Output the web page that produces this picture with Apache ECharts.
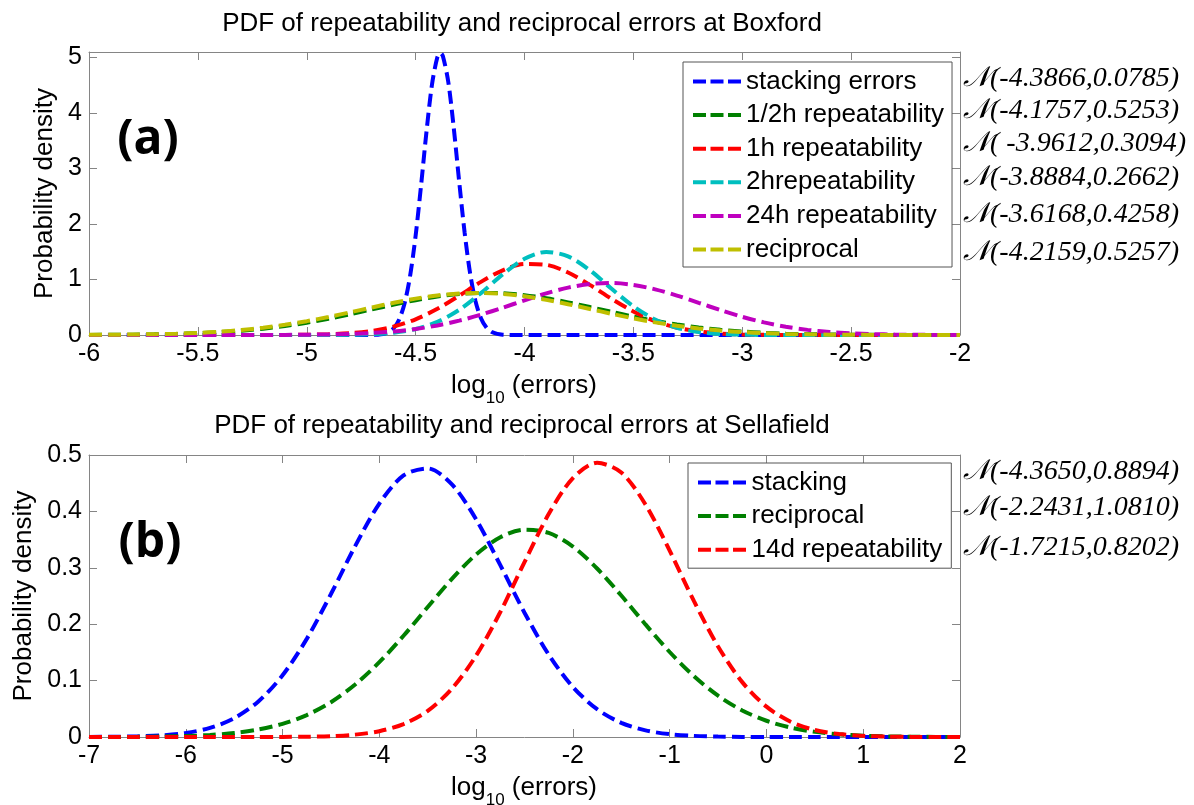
<!DOCTYPE html>
<html><head><meta charset="utf-8">
<script src="https://cdn.jsdelivr.net/npm/echarts@6/dist/echarts.min.js"></script>
<style>html,body{margin:0;padding:0;background:#fff}#c{width:1194px;height:805px}</style>
</head><body><div id="c"></div>
<script>
// ---------- Panel (a): Boxford ----------
const topX = [-6.0,-5.9,-5.8,-5.7,-5.6,-5.5,-5.4,-5.3,-5.2,-5.1,-5.0,-4.9,-4.8,-4.7,-4.6,-4.5,-4.4,-4.3,-4.2,-4.1,-4.0,-3.9,-3.8,-3.7,-3.6,-3.5,-3.4,-3.3,-3.2,-3.1,-3.0,-2.9,-2.8,-2.7,-2.6,-2.5,-2.4,-2.3,-2.2,-2.1,-2.0];
const stackX = [-6.0,-4.75,-4.7,-4.675,-4.65,-4.625,-4.6,-4.575,-4.55,-4.525,-4.5,-4.475,-4.45,-4.425,-4.4,-4.3866,-4.375,-4.35,-4.325,-4.3,-4.275,-4.25,-4.225,-4.2,-4.175,-4.15,-4.125,-4.1,-4.075,-4.05,-2.0];
const stackY = [0,0.0001,0.0018,0.006,0.018,0.051,0.126,0.285,0.582,1.074,1.789,2.696,3.668,4.509,5.008,5.082,5.027,4.559,3.735,2.766,1.849,1.118,0.610,0.301,0.134,0.054,0.020,0.0065,0.002,0.0005,0];
const halfHourY = [0.0018,0.0035,0.0064,0.0113,0.0192,0.0316,0.0502,0.0769,0.1135,0.1615,0.2218,0.2935,0.3748,0.4616,0.5481,0.6277,0.6933,0.7385,0.7587,0.7517,0.7182,0.6618,0.5881,0.5041,0.4166,0.3320,0.2553,0.1893,0.1353,0.0933,0.0621,0.0398,0.0246,0.0147,0.0084,0.0047,0.0025,0.0013,0.0006,0.0003,0.0001];
const oneHourY = [0,0,0,0,0,0,0,0,0.0004,0.0015,0.0046,0.0129,0.0327,0.0745,0.1531,0.2830,0.4717,0.7080,0.9574,1.1660,1.2793,1.2644,1.1258,0.9030,0.6523,0.4245,0.2489,0.1314,0.0625,0.0268,0.0103,0.0036,0.0011,0.0003,0,0,0,0,0,0,0];
const twoHourY = [0,0,0,0,0,0,0,0,0,0,0,0.0011,0.0043,0.0144,0.0421,0.1070,0.2364,0.4535,0.7553,1.0926,1.3726,1.4972,1.4183,1.1665,0.8334,0.5169,0.2785,0.1302,0.0529,0.0187,0.0057,0.0015,0.0003,0,0,0,0,0,0,0,0];
const dayY = [0,0,0,0,0,0,0,0.0004,0.0009,0.0022,0.0048,0.0100,0.0197,0.0368,0.0651,0.1090,0.1726,0.2586,0.3667,0.4921,0.6249,0.7510,0.8541,0.9192,0.9361,0.9023,0.8230,0.7104,0.5802,0.4486,0.3281,0.2272,0.1488,0.0923,0.0542,0.0301,0.0158,0.0079,0.0037,0.0016,0.0007];
const recipTopY = [0.0024,0.0045,0.0081,0.0141,0.0237,0.0384,0.0600,0.0905,0.1316,0.1845,0.2495,0.3254,0.4094,0.4966,0.5811,0.6558,0.7138,0.7493,0.7585,0.7407,0.6975,0.6335,0.5550,0.4689,0.3820,0.3002,0.2276,0.1664,0.1173,0.0798,0.0523,0.0331,0.0202,0.0119,0.0067,0.0037,0.0019,0.0010,0.0005,0.0002,0.0001];
const topNames = ['stacking errors','1/2h repeatability','1h repeatability','2hrepeatability','24h repeatability','reciprocal'];
const topNotes = ['\u{1D4A9}(-4.3866,0.0785)','\u{1D4A9}(-4.1757,0.5253)','\u{1D4A9}( -3.9612,0.3094)','\u{1D4A9}(-3.8884,0.2662)','\u{1D4A9}(-3.6168,0.4258)','\u{1D4A9}(-4.2159,0.5257)'];

// ---------- Panel (b): Sellafield ----------
const botX = [-7,-6.75,-6.5,-6.25,-6,-5.75,-5.5,-5.25,-5,-4.75,-4.5,-4.25,-4,-3.75,-3.5,-3.25,-3,-2.75,-2.5,-2.25,-2,-1.75,-1.5,-1.25,-1,-0.75,-0.5,-0.25,0,0.25,0.5,0.75,1,1.25,1.5,1.75,2];
const stackBotY = [0.0001,0.0004,0.0011,0.0029,0.0071,0.0161,0.0333,0.0631,0.1094,0.1740,0.2535,0.3385,0.4139,0.4638,0.4762,0.4479,0.3859,0.3047,0.2204,0.1461,0.0887,0.0493,0.0251,0.0117,0.0050,0.0020,0.0007,0.0002,0,0,0,0,0,0,0,0,0];
const recipBotY = [0.0001,0.0001,0.0003,0.0008,0.0017,0.0036,0.0071,0.0132,0.0233,0.0389,0.0617,0.0930,0.1326,0.1795,0.2304,0.2804,0.3236,0.3542,0.3676,0.3618,0.3377,0.2988,0.2508,0.1996,0.1507,0.1079,0.0732,0.0471,0.0288,0.0166,0.0091,0.0048,0.0023,0.0011,0.0005,0.0002,0.0001];
const fortnightY = [0,0,0,0,0,0,0,0,0.0002,0.0005,0.0016,0.0042,0.0103,0.0229,0.0464,0.0857,0.1443,0.2216,0.3100,0.3952,0.4592,0.4861,0.4690,0.4123,0.3304,0.2412,0.1605,0.0973,0.0538,0.0271,0.0124,0.0052,0.0020,0.0007,0.0002,0.0001,0];
const botNames = ['stacking','reciprocal ','14d repeatability'];
const botNotes = ['\u{1D4A9}(-4.3650,0.8894)','\u{1D4A9}(-2.2431,1.0810)','\u{1D4A9}(-1.7215,0.8202)'];

const SANS = '"Liberation Sans", Arial, sans-serif';
const AX = '#858585';
const DASH = [13, 6];
const LW = 4;
const DASH_ICON = 'path://M0,0h13v4h-13z M17.5,0h13v4h-13z M35,0h13v4h-13z';

function pairs(xs, ys){ return xs.map((x,i)=>[x, ys[i]]); }
function line(name, xs, ys, color, xi, yi){
  return {type:'line', name, xAxisIndex:xi, yAxisIndex:yi, data:pairs(xs,ys),
    showSymbol:false, symbol:'none', smooth:0.3, clip:true, silent:true, animation:false,
    lineStyle:{color, width:LW, type:DASH}, itemStyle:{color}};
}
function xAx(grid, min, max, interval, pos, labels){
  return {type:'value', gridIndex:grid, min, max, interval, position:pos,
    axisLine:{show:true, onZero:false, lineStyle:{color:AX, width:1}},
    axisTick:{show:true, inside:true, length:8, lineStyle:{color:AX, width:1}},
    axisLabel:{show:labels, color:'#000', fontSize:25, fontFamily:SANS, margin:7},
    splitLine:{show:false}};
}
function yAx(grid, min, max, interval, pos, labels){
  return {type:'value', gridIndex:grid, min, max, interval, position:pos,
    axisLine:{show:true, onZero:false, lineStyle:{color:AX, width:1}},
    axisTick:{show:true, inside:true, length:8, lineStyle:{color:AX, width:1}},
    axisLabel:{show:labels, color:'#000', fontSize:25, fontFamily:SANS, margin:7, showMaxLabel: max===0.5},
    splitLine:{show:false}};
}
function txt(x, y, text, font, extra){
  return Object.assign({type:'text', x, y, silent:true, z:10,
    style:{text, font, fill:'#000', textAlign:'left', align:'left', textVerticalAlign:'middle', verticalAlign:'middle'}}, extra||{});
}
function ctxt(x, y, text, font, extra){
  const t = txt(x, y, text, font, extra);
  t.style.textAlign = 'center'; t.style.align = 'center';
  return t;
}
const NOTE_FONT = 'italic 28px "Liberation Serif", "DejaVu Serif", serif';
const xlabelRich = {a:{fontSize:26, fontFamily:SANS, color:'#000'}, s:{fontSize:17, fontFamily:SANS, color:'#000', padding:[24,0,0,0]}};
function xlabel(x, y){
  return {type:'text', x, y, silent:true, z:10, style:{text:'{a|log}{s|10}{a| (errors)}', rich:xlabelRich,
    font:'26px '+SANS, textAlign:'center', align:'center', textVerticalAlign:'middle', verticalAlign:'middle', fill:'#000'}};
}
function ylabel(x, y){
  return {type:'text', x, y, rotation:Math.PI/2, silent:true, z:10, style:{text:'Probability density', font:'26px '+SANS,
    textAlign:'center', align:'center', textVerticalAlign:'middle', verticalAlign:'middle', fill:'#000'}};
}

const topNoteY = [79, 111, 144, 178, 215, 253];
const botNoteY = [472, 508, 548];
const graphics = [
  ctxt(522, 24, 'PDF of repeatability and reciprocal errors at Boxford', '26px '+SANS),
  ctxt(522, 426, 'PDF of repeatability and reciprocal errors at Sellafield', '26px '+SANS),
  ctxt(148, 140, '(a)', 'bold 48px "Open Sans", "Noto Sans", sans-serif'),
  ctxt(150, 543, '(b)', 'bold 48px "Open Sans", "Noto Sans", sans-serif'),
  xlabel(524, 386), xlabel(524, 788),
  ylabel(45, 193.5), ylabel(24, 596)
];
topNotes.forEach((t,i)=>graphics.push(txt(963, topNoteY[i], t, NOTE_FONT)));
botNotes.forEach((t,i)=>graphics.push(txt(963, botNoteY[i], t, NOTE_FONT)));

const legendCommon = {orient:'vertical', icon:DASH_ICON, itemWidth:48, itemHeight:4, itemGap:6.6, borderColor:'#555', borderWidth:1,
  backgroundColor:'#fff', selectedMode:false, formatter:n=>n.trim(),
  itemStyle:{borderWidth:0},
  textStyle:{fontSize:26, fontFamily:SANS, color:'#000', lineHeight:27}};

const option = {
  animation:false,
  backgroundColor:'#fff',
  grid:[{left:89, top:52, width:871, height:283}, {left:89, top:455, width:871, height:282}],
  xAxis:[xAx(0,-6,-2,0.5,'bottom',true), xAx(0,-6,-2,0.5,'top',false), xAx(1,-7,2,1,'bottom',true), xAx(1,-7,2,1,'top',false)],
  yAxis:[yAx(0,0,5.1,1,'left',true), yAx(0,0,5.1,1,'right',false), yAx(1,0,0.5,0.1,'left',true), yAx(1,0,0.5,0.1,'right',false)],
  legend:[
    Object.assign({}, legendCommon, {left:683, top:62, padding:[6,8,4,10], data:topNames}),
    Object.assign({}, legendCommon, {left:688, top:463, padding:[6,9,5,10], itemWidth:49, data:botNames})
  ],
  series:[
    line(topNames[0], stackX, stackY, '#0000FF', 0, 0),
    line(topNames[1], topX, halfHourY, '#008000', 0, 0),
    line(topNames[2], topX, oneHourY, '#FF0000', 0, 0),
    line(topNames[3], topX, twoHourY, '#00BFBF', 0, 0),
    line(topNames[4], topX, dayY, '#BF00BF', 0, 0),
    line(topNames[5], topX, recipTopY, '#BFBF00', 0, 0),
    line(botNames[0], botX, stackBotY, '#0000FF', 2, 2),
    line(botNames[1], botX, recipBotY, '#008000', 2, 2),
    line(botNames[2], botX, fortnightY, '#FF0000', 2, 2)
  ],
  graphic:{elements:graphics}
};
const chart = echarts.init(document.getElementById('c'), null, {renderer:'canvas'});
chart.setOption(option);
</script>
</body></html>
